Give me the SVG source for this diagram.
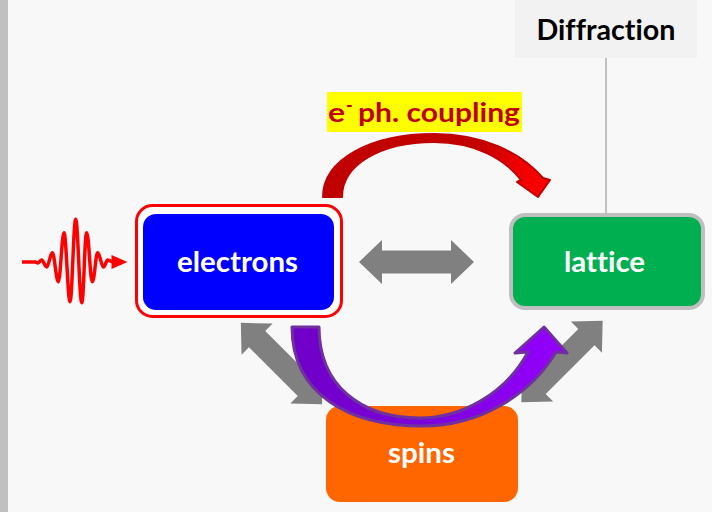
<svg xmlns="http://www.w3.org/2000/svg" width="712" height="512" viewBox="0 0 712 512">
<style>
.lbl{font-family:Lato,"Open Sans","Liberation Sans",sans-serif;font-weight:bold;font-variant-ligatures:none;font-feature-settings:"liga" 0,"clig" 0,"dlig" 0}
.c{text-anchor:middle}
.w{fill:#ffffff;font-size:29px}
.garrow{fill:#808080}
</style>
<defs>
<path id="dbl" d="M-57.5,0 L-34.5,-22 L-34.5,-11.5 L34.5,-11.5 L34.5,-22 L57.5,0 L34.5,22 L34.5,11.5 L-34.5,11.5 L-34.5,22 Z"/>
<linearGradient id="redg" gradientUnits="userSpaceOnUse" x1="323" y1="0" x2="551" y2="0">
<stop offset="0" stop-color="#c00000"/><stop offset="0.7" stop-color="#c40000"/><stop offset="0.85" stop-color="#ee0000"/><stop offset="1" stop-color="#ff0000"/>
</linearGradient>
<linearGradient id="purg" gradientUnits="userSpaceOnUse" x1="292" y1="0" x2="567" y2="0">
<stop offset="0" stop-color="#7000c8"/><stop offset="0.45" stop-color="#7a00d8"/><stop offset="1" stop-color="#9500ff"/>
</linearGradient>
</defs>
<rect x="0" y="0" width="712" height="512" fill="#f8f8f8"/>
<rect x="0" y="0" width="8" height="512" fill="#c0c0c0"/>

<g id="diffraction">
<rect x="515" y="0" width="182" height="58" fill="#f2f2f2"/>
<text class="lbl c" x="606" y="40" font-size="28" fill="#000000" textLength="139" lengthAdjust="spacingAndGlyphs">Diffraction</text>
</g>

<g id="connectors">
<line x1="606" y1="58" x2="606" y2="214" stroke="#c0c0c0" stroke-width="2"/>
<use href="#dbl" class="garrow" transform="translate(416.5,262)"/>
<use href="#dbl" class="garrow" transform="translate(281.5,363.5) rotate(45)"/>
<use href="#dbl" class="garrow" transform="translate(562,361.5) rotate(-45)"/>
<path d="M22,262 L35,262 C36.5,262 36.8,263 37.7,263 C39,263 40.5,260 41.7,260 C43.2,260 45,267 46.7,267 C48.7,267 50.3,252.7 52.3,252.7 C54.5,252.7 56.1,281.7 58.3,281.7 C60.5,281.7 61.8,232.7 64,232.7 C66.2,232.7 67.8,301.7 70,301.7 C72.2,301.7 73.5,219.3 75.7,219.3 C77.9,219.3 79.5,302.7 81.7,302.7 C83.9,302.7 84.5,232.7 86.7,232.7 C88.9,232.7 90.1,281.7 92.3,281.7 C94.5,281.7 95.7,252.7 97.7,252.7 C99.7,252.7 101.5,267 103.3,267 C105,267 106.3,260 107.7,260 C109,260 110,262 114,262" fill="none" stroke="#ff0000" stroke-width="3.5" stroke-linejoin="round"/>
<polygon points="111.5,255 127.5,262 111.5,269" fill="#ff0000"/>
</g>

<g id="coupling-label">
<rect x="327" y="92" width="195" height="40" fill="#ffff00"/>
<text class="lbl" x="328" y="122" font-size="27" fill="#c00000" textLength="17" lengthAdjust="spacingAndGlyphs">e</text>
<text class="lbl" x="346" y="112" font-size="18" fill="#c00000">-</text>
<text class="lbl" x="358" y="122" font-size="27" fill="#c00000" textLength="162" lengthAdjust="spacingAndGlyphs">ph. coupling</text>
</g>

<g id="ep-arrow">
<path d="M323,197 C323,160 370,134 434,134 C482,134 520,152 543,178 L550,180 L538,197 L517,182 L521,180 C505,159 475,142 434,142 C380,142 342,165 342,197 Z" fill="url(#redg)" stroke="#c00000" stroke-width="2" stroke-linejoin="round"/>
</g>

<g id="electrons">
<rect x="136.5" y="205.5" width="205" height="111" rx="16" fill="#ffffff" stroke="#ff0000" stroke-width="3"/>
<rect x="143" y="214" width="191" height="96" rx="13" fill="#0000ff"/>
<text class="lbl c w" x="237.5" y="272" textLength="121" lengthAdjust="spacingAndGlyphs">electrons</text>
</g>

<g id="lattice">
<rect x="511" y="215" width="192" height="93" rx="14" fill="#00b050" stroke="#bfbfbf" stroke-width="4"/>
<text class="lbl c w" x="604.5" y="272" textLength="81" lengthAdjust="spacingAndGlyphs">lattice</text>
</g>

<g id="spins">
<rect x="326" y="406" width="192" height="96" rx="14" fill="#ff6600"/>
<text class="lbl c w" x="421.5" y="463" textLength="67" lengthAdjust="spacingAndGlyphs">spins</text>
</g>

<g id="spin-arrow">
<path d="M292,327 C292,395 350,426 422,426 C480,426 530,395 556,352 L567,353 L544,327 L515,353 L528,352 C505,395 460,418 420,418 C360,418 319,385 319,327 Z" fill="url(#purg)" stroke="#7030a0" stroke-width="3" stroke-linejoin="round"/>
</g>
</svg>
